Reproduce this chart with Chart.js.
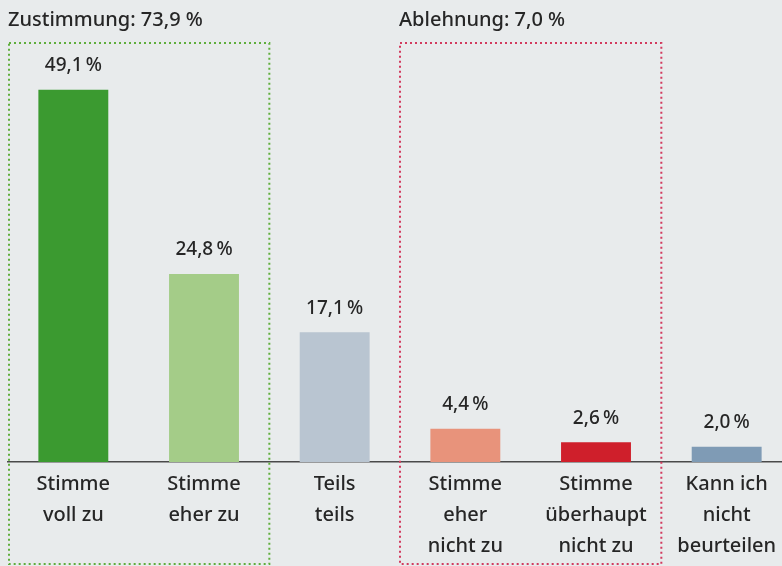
<!DOCTYPE html>
<html>
<head>
<meta charset="utf-8">
<script src="https://cdn.jsdelivr.net/npm/chart.js@4"></script>
<style>
    html, body { margin: 0; padding: 0; background: #e8ebec; overflow: hidden; }
    #chart { display: block; }
</style>
</head>
<body>
<canvas id="chart" width="800" height="566"></canvas>
<script>
// Kategorien (mehrzeilig) und Werte in Prozent
const categories = [
    ["Stimme", "voll zu"],
    ["Stimme", "eher zu"],
    ["Teils", "teils"],
    ["Stimme", "eher", "nicht zu"],
    ["Stimme", "überhaupt", "nicht zu"],
    ["Kann ich", "nicht", "beurteilen"]
]
const values = [49.1, 24.8, 17.1, 4.4, 2.6, 2.0]
const barColors = ["#3b9a30", "#a4cc88", "#b9c5d1", "#e8937b", "#cf1f2b", "#7f9bb5"]

// Gruppenrahmen: erster und letzter Index
const groupTitles = ["Zustimmung: 73,9 %", "Ablehnung: 7,0 %"]
const groupFrom = [0, 3]
const groupTo = [1, 4]
const groupColors = ["#5fae3c", "#d23a5e"]

const FONT = "'Noto Sans', sans-serif"
const TEXT = "#262626"

function fmt(v) {
    return v.toFixed(1).replace(".", ",") + "\u2009%"
}

const valueLabels = {
    id: "valueLabels",
    afterDatasetsDraw(chart) {
        const ctx = chart.ctx
        const meta = chart.getDatasetMeta(0)
        ctx.save()
        ctx.font = "500 19px " + FONT
        ctx.fillStyle = TEXT
        ctx.textAlign = "center"
        ctx.textBaseline = "middle"
        meta.data.forEach((bar, i) => {
            ctx.fillText(fmt(values[i]), bar.x, bar.y - 24)
        })
        ctx.restore()
    }
}

const groupBoxes = {
    id: "groupBoxes",
    afterDraw(chart) {
        const ctx = chart.ctx
        const x = chart.scales.x
        const half = (x.getPixelForValue(1) - x.getPixelForValue(0)) / 2
        ctx.save()
        groupTitles.forEach((title, g) => {
            let left = x.getPixelForValue(groupFrom[g]) - half
            const right = x.getPixelForValue(groupTo[g]) + half
            if (left < 9) left = 9
            ctx.strokeStyle = groupColors[g]
            ctx.lineWidth = 2
            ctx.setLineDash([2, 3])
            ctx.strokeRect(left, 43, right - left, 521)
            ctx.setLineDash([])
            ctx.font = "500 20px " + FONT
            ctx.fillStyle = TEXT
            ctx.textAlign = "left"
            ctx.textBaseline = "middle"
            ctx.fillText(title, left - 1, 20)
        })
        ctx.restore()
    }
}

new Chart(document.getElementById("chart"), {
    type: "bar",
    data: {
        labels: categories,
        datasets: [{
            data: values,
            backgroundColor: barColors,
            barPercentage: 0.535,
            categoryPercentage: 1
        }]
    },
    options: {
        responsive: false,
        animation: false,
        devicePixelRatio: 1,
        layout: { padding: { left: 8, right: 8, top: 7, bottom: 0 } },
        plugins: {
            legend: { display: false },
            tooltip: { enabled: false }
        },
        scales: {
            y: { display: false, min: 0, max: 60 },
            x: {
                grid: { display: false, drawTicks: false },
                border: { display: true, color: "#4a4a4a", width: 1.5 },
                ticks: {
                    color: TEXT,
                    font: { family: FONT, size: 20, weight: "500", lineHeight: 1.55 },
                    padding: 7,
                    maxRotation: 0,
                    autoSkip: false
                },
                afterFit(scale) { scale.height = 104 }
            }
        }
    },
    plugins: [valueLabels, groupBoxes]
})
</script>
</body>
</html>
